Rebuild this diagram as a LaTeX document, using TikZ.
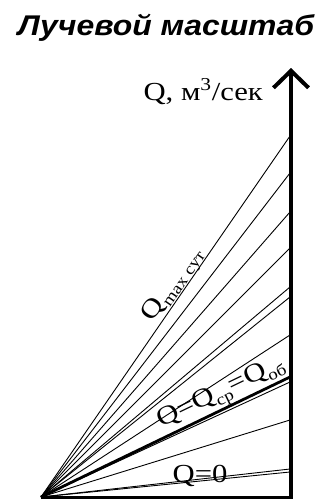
\documentclass[tikz,border=0pt]{standalone}
\usepackage{fontspec}
\usepackage{graphicx}
\setmainfont{Liberation Serif}
\newfontfamily\titlefont{Liberation Sans}
\usetikzlibrary{arrows.meta}
\newcommand{\lowsub}[1]{\raisebox{-0.22em}{\fontsize{16}{16}\selectfont #1}}
\newcommand{\wide}[1]{\scalebox{1.18}[1]{#1}}
\begin{document}
\begin{tikzpicture}[x=1pt,y=-1pt,
  ray/.style={line width=0.9pt},
  thickray/.style={line width=2.8pt},
  axisline/.style={line width=4pt,-{Straight Barb[length=17pt,width=35pt]}},
  lbl/.style={font=\fontsize{26}{26}\selectfont, inner sep=0pt}]
\useasboundingbox (0,0) rectangle (331,499);
% title
\node[anchor=base, inner sep=0pt, font=\titlefont\bfseries\itshape\fontsize{28.5}{28.5}\selectfont] (title) at (166,35) {\scalebox{1.12}[1]{Лучевой масштаб}};
% axis label
\node[anchor=base east, inner sep=0pt, font=\fontsize{26}{26}\selectfont] (qlab) at (263,100) {\wide{Q, м\textsuperscript{3}/сек}};
% coordinates
\coordinate (O) at (41,497);
\coordinate (axbot) at (291,499);
\coordinate (axtop) at (291,68);
\coordinate (r1) at (290,136);
\coordinate (r2) at (290,173);
\coordinate (r3) at (290,212);
\coordinate (r4) at (290,248);
\coordinate (r5) at (290,287);
\coordinate (r6) at (290,297);
\coordinate (r7) at (290,335);
\coordinate (r8) at (290,377);
\coordinate (r9) at (290,382);
\coordinate (r10) at (290,420);
\coordinate (r11) at (290,469);
\coordinate (r12) at (290,472);
\coordinate (bend) at (290,497);
% rays
\foreach \r in {r1,r2,r3,r4,r5,r6,r7,r9,r10,r11,r12}
  \draw[ray] (O) -- (\r);
\draw[thickray] (O) -- (r8);
\draw[line width=3pt] (O) -- (bend);
% axis
\draw[axisline] (axbot) -- (axtop);
% labels
\path (O) -- (r1) node[lbl, pos=0.57, sloped, anchor=south, yshift=-2pt] (qmax) {\wide{Q\lowsub{max сут}}};
\path (O) -- (r8) node[lbl, pos=0.75, sloped, anchor=south, yshift=1pt] (qsr) {\wide{Q=Q\lowsub{ср}=Q\lowsub{об}}};
\node[lbl, anchor=base] (q0) at (200,482) {\wide{Q=0}};
\end{tikzpicture}
\end{document}
